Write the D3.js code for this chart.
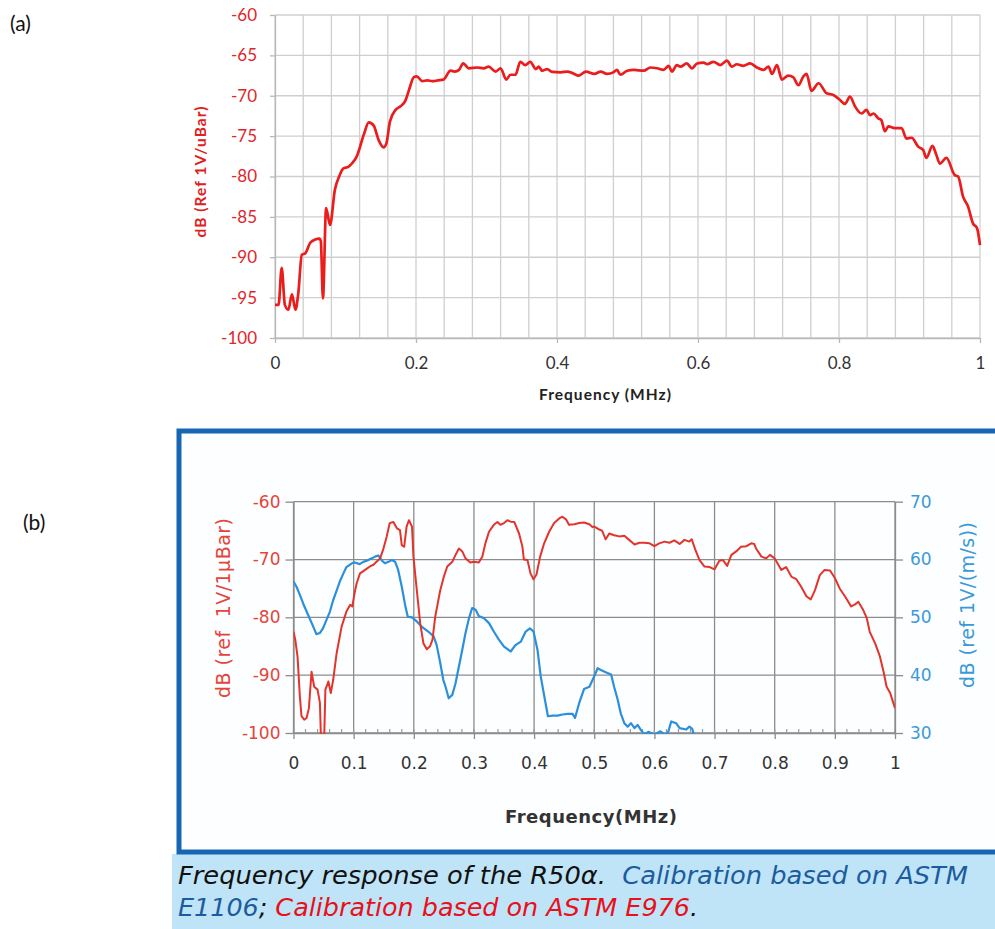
<!DOCTYPE html>
<html>
<head>
<meta charset="utf-8">
<script src="https://cdn.jsdelivr.net/npm/d3@7"></script>
<style>
body { margin: 0; background: #fff; }
svg { display: block; }
</style>
</head>
<body>
<svg></svg>
<script>

//panel (a) data: frequency (MHz) and dB

let aFreq = [0, 0.005, 0.0095, 0.014, 0.019, 0.024, 0.029, 0.033, 0.038, 0.043, 0.05, 0.057, 0.063, 0.065, 0.068, 0.0725, 0.078, 0.085, 0.091, 0.097,
    0.104, 0.11, 0.116, 0.126, 0.133, 0.14, 0.147, 0.154, 0.158, 0.163, 0.171, 0.178, 0.185, 0.19, 0.197, 0.201, 0.209, 0.216, 0.223, 0.231,
    0.239, 0.249, 0.255, 0.261, 0.267, 0.275, 0.287, 0.296, 0.303, 0.313, 0.32, 0.328, 0.334, 0.341, 0.348, 0.355, 0.362, 0.37, 0.374, 0.379,
    0.386, 0.393, 0.405, 0.415, 0.422, 0.431, 0.441, 0.453, 0.462, 0.471, 0.48, 0.485, 0.49, 0.4995, 0.509, 0.523, 0.5325, 0.542, 0.551, 0.5585,
    0.563, 0.57, 0.575, 0.584, 0.5915, 0.5986, 0.608, 0.613, 0.622, 0.6316, 0.641, 0.648, 0.655, 0.664, 0.674, 0.6835, 0.693, 0.7, 0.705, 0.712,
    0.719, 0.728, 0.735, 0.7425, 0.7495, 0.754, 0.761, 0.771, 0.7825, 0.792, 0.801, 0.8085, 0.8156, 0.8226, 0.832, 0.839, 0.844, 0.849, 0.8557, 0.86,
    0.865, 0.87, 0.879, 0.8887, 0.8958, 0.903, 0.9123, 0.9193, 0.924, 0.9325, 0.938, 0.943, 0.9524, 0.964, 0.969, 0.976, 0.983, 0.99, 0.9958, 1]
let aDb = [-95.9, -95.9, -91.3, -95.9, -96.5, -94.6, -96.5, -94.5, -89.7, -89.5, -88.2, -87.8, -87.7, -88.0, -95.1, -83.9, -86.0, -81.6, -80.0, -79.0,
    -78.8, -78.3, -77.5, -74.8, -73.3, -73.7, -75.5, -76.4, -75.9, -73.2, -71.75, -71.3, -70.6, -69.3, -67.7, -67.6, -68.2, -68.1, -68.2, -68.1,
    -68.0, -66.9, -67.0, -66.8, -66.0, -66.6, -66.5, -66.6, -66.4, -67.0, -66.6, -68.0, -67.4, -67.4, -65.8, -66.2, -65.8, -66.7, -66.4, -66.9,
    -66.7, -67.05, -67.1, -67.0, -67.2, -67.5, -67.0, -67.3, -67.0, -67.3, -67.1, -66.8, -67.4, -66.9, -66.8, -66.9, -66.5, -66.6, -66.8, -66.3,
    -67.0, -66.2, -66.4, -66.0, -66.6, -66.0, -65.9, -66.1, -65.8, -66.2, -65.65, -66.4, -66.1, -66.3, -66.0, -66.5, -66.8, -66.4, -67.3, -66.2,
    -68.0, -67.5, -67.7, -68.7, -67.6, -67.3, -69.4, -68.45, -69.7, -69.9, -70.5, -71.0, -70.1, -71.3, -72.2, -71.75, -72.4, -72.2, -72.8, -73.0,
    -74.4, -73.8, -74.0, -74.0, -75.3, -75.2, -76.3, -76.7, -77.7, -76.2, -77.3, -78.4, -77.7, -79.8, -80.0, -82.5, -83.7, -85.8, -86.4, -88.5]

//panel (b) data: red (E976, left axis) and blue (E1106, right axis)

let bRedFreq = [0, 0.003, 0.0067, 0.0106, 0.0133, 0.0178, 0.0217, 0.0256, 0.03, 0.0344, 0.04, 0.0439, 0.046, 0.049, 0.051, 0.053, 0.058, 0.062, 0.066, 0.0717,
    0.08, 0.088, 0.094, 0.0978, 0.101, 0.105, 0.1106, 0.119, 0.127, 0.133, 0.138, 0.144, 0.149, 0.155, 0.16, 0.166, 0.172, 0.177, 0.18, 0.184,
    0.188, 0.192, 0.197, 0.1994, 0.205, 0.2106, 0.216, 0.2217, 0.227, 0.231, 0.2356, 0.244, 0.25, 0.2556, 0.264, 0.2694, 0.275, 0.2806, 0.286, 0.294,
    0.3, 0.308, 0.314, 0.319, 0.325, 0.333, 0.339, 0.344, 0.35, 0.3556, 0.361, 0.367, 0.375, 0.3806, 0.383, 0.389, 0.394, 0.399, 0.404, 0.41,
    0.4167, 0.425, 0.4333, 0.4417, 0.447, 0.453, 0.458, 0.467, 0.475, 0.483, 0.492, 0.497, 0.5, 0.508, 0.513, 0.519, 0.525, 0.533, 0.542, 0.55,
    0.558, 0.567, 0.575, 0.583, 0.592, 0.6, 0.608, 0.617, 0.625, 0.633, 0.642, 0.65, 0.658, 0.662, 0.668, 0.675, 0.683, 0.692, 0.7, 0.708,
    0.714, 0.721, 0.728, 0.736, 0.744, 0.753, 0.761, 0.766, 0.769, 0.778, 0.786, 0.792, 0.8, 0.806, 0.811, 0.819, 0.828, 0.836, 0.844, 0.853,
    0.86, 0.867, 0.875, 0.883, 0.892, 0.9, 0.908, 0.917, 0.927, 0.933, 0.939, 0.947, 0.953, 0.958, 0.967, 0.975, 0.981, 0.986, 0.992, 1]
let bRedDb = [-82.5, -83.9, -86.8, -93.7, -97.1, -97.7, -97.4, -95.7, -89.4, -92.0, -92.5, -94.8, -102, -103, -101, -92.5, -91.1, -93.1, -90.8, -86.2,
    -81.6, -79.0, -77.85, -78.1, -76.1, -74.1, -72.4, -71.8, -71.2, -70.9, -70.4, -69.8, -68.3, -66.0, -63.7, -63.5, -64.6, -64.9, -67.5, -67.8,
    -64.3, -63.2, -64.3, -69.5, -75.3, -81.0, -84.5, -85.5, -85.0, -83.9, -79.9, -75.3, -72.95, -71.2, -70.4, -69.2, -68.1, -68.6, -69.8, -70.5,
    -70.4, -70.5, -69.5, -67.2, -65.2, -64.0, -63.5, -64.0, -63.7, -63.2, -63.45, -63.5, -65.5, -67.8, -70.0, -70.1, -72.4, -73.4, -72.6, -69.5,
    -67.2, -65.2, -63.7, -62.9, -62.6, -63.05, -64.0, -63.9, -63.7, -63.6, -63.9, -64.4, -64.3, -64.8, -65.0, -66.5, -65.5, -65.8, -66.0, -65.9,
    -66.6, -67.4, -67.1, -67.1, -67.2, -67.7, -67.2, -66.9, -67.1, -66.7, -67.3, -66.6, -66.9, -66.5, -68.3, -70.1, -71.2, -71.3, -71.7, -70.2,
    -70.1, -71.1, -69.2, -68.6, -67.8, -67.7, -67.2, -67.3, -68.1, -69.5, -69.8, -69.2, -69.8, -70.9, -71.8, -71.3, -73.0, -73.4, -74.7, -76.4,
    -76.9, -75.3, -72.7, -71.8, -71.9, -73.2, -75.0, -76.4, -78.1, -77.8, -77.3, -78.7, -80.1, -82.5, -84.5, -86.8, -89.4, -92.0, -93.1, -95.7]

let bBlueFreq = [0, 0.005, 0.0106, 0.016, 0.0244, 0.0328, 0.038, 0.044, 0.049, 0.055, 0.0606, 0.066, 0.072, 0.077, 0.083, 0.088, 0.097, 0.102, 0.11, 0.116,
    0.1217, 0.13, 0.1356, 0.141, 0.147, 0.152, 0.158, 0.163, 0.169, 0.174, 0.18, 0.186, 0.19, 0.197, 0.205, 0.213, 0.224, 0.233, 0.238, 0.244,
    0.249, 0.2528, 0.258, 0.264, 0.2694, 0.275, 0.2806, 0.286, 0.2917, 0.297, 0.3028, 0.308, 0.3167, 0.325, 0.333, 0.3417, 0.35, 0.361, 0.369, 0.378,
    0.386, 0.393, 0.399, 0.4056, 0.411, 0.418, 0.423, 0.4306, 0.439, 0.447, 0.456, 0.464, 0.468, 0.475, 0.483, 0.492, 0.5, 0.5056, 0.511, 0.519,
    0.528, 0.533, 0.539, 0.544, 0.55, 0.5556, 0.561, 0.567, 0.572, 0.578, 0.583, 0.59, 0.6, 0.61, 0.618, 0.623, 0.628, 0.636, 0.642, 0.653,
    0.658, 0.663, 0.666]
let bBlueDb = [56.2, 55.3, 53.9, 52.4, 50.4, 48.4, 47.1, 47.3, 48.1, 49.6, 51.0, 53.0, 54.7, 56.2, 57.6, 58.7, 59.35, 59.5, 59.2, 59.6,
    59.8, 60.2, 60.5, 60.7, 59.8, 59.35, 59.6, 59.9, 59.6, 58.2, 55.3, 51.9, 50.1, 50.0, 49.3, 48.4, 47.55, 46.7, 45.2, 42.1,
    39.2, 38.0, 36.0, 36.6, 38.6, 41.5, 44.4, 47.3, 49.85, 51.6, 51.3, 50.25, 49.85, 49.0, 47.55, 46.1, 44.95, 44.1, 45.2, 45.8,
    47.55, 48.1, 47.55, 44.4, 39.8, 35.75, 32.9, 33.0, 33.0, 33.2, 33.3, 33.3, 32.6, 35.2, 37.6, 38.0, 39.8, 41.2, 40.9, 40.5,
    40.1, 38.0, 35.75, 33.4, 31.7, 31.1, 31.7, 30.85, 31.4, 30.45, 29.8, 30.2, 29.7, 30.3, 29.6, 30.2, 32.0, 31.7, 30.85, 30.6,
    31.1, 30.7, 29.5]

//tick labels

let aXTicks = [0, 0.2, 0.4, 0.6, 0.8, 1]
let aYTicks = [-100, -95, -90, -85, -80, -75, -70, -65, -60]
let bXTicks = [0, 0.1, 0.2, 0.3, 0.4, 0.5, 0.6, 0.7, 0.8, 0.9, 1]
let bLeftTicks = [-100, -90, -80, -70, -60]
let bRightTicks = [30, 40, 50, 60, 70]


//canvas

let width = 995
let height = 929
let svg = d3.select('svg')
    .attr('width', width)
    .attr('height', height)


//============ panel (a) ============

let xA = d3.scaleLinear().domain([0, 1]).range([275, 980])
let yA = d3.scaleLinear().domain([-100, -60]).range([338, 15])

let gA = svg.append('g')

//grid
gA.selectAll('.vgridA')
    .data(d3.range(0, 25.5, 1).map(i => i * 0.04))
    .enter()
    .append('line')
    .attr('x1', d => xA(d)).attr('x2', d => xA(d))
    .attr('y1', yA(-100)).attr('y2', yA(-60))
    .attr('stroke', '#cfcfcf')
    .attr('stroke-width', 1.3)

gA.selectAll('.hgridA')
    .data(aYTicks)
    .enter()
    .append('line')
    .attr('x1', xA(0)).attr('x2', xA(1))
    .attr('y1', d => yA(d)).attr('y2', d => yA(d))
    .attr('stroke', '#cfcfcf')
    .attr('stroke-width', 1.3)

//axes
let styleAxisA = (g, color) => {
    g.attr('font-family', 'Lato, "Open Sans", sans-serif').attr('font-size', 17)
    g.selectAll('line, path').attr('stroke', '#b8b8b8').attr('stroke-width', 1.3)
    g.selectAll('text').attr('fill', color)
}

gA.append('g')
    .attr('transform', 'translate(0,' + yA(-100) + ')')
    .call(d3.axisBottom(xA).tickValues(aXTicks).tickSize(5).tickSizeOuter(0).tickPadding(14).tickFormat(d => String(d)))
    .call(g => styleAxisA(g, '#333'))

gA.append('g')
    .attr('transform', 'translate(' + xA(0) + ',0)')
    .call(d3.axisLeft(yA).tickValues(aYTicks).tickSize(5).tickSizeOuter(0).tickPadding(13).tickFormat(d => String(d)))
    .call(g => styleAxisA(g, '#e0252b'))

//line
let lineA = d3.line()
    .x(d => xA(d[0]))
    .y(d => yA(d[1]))
    .curve(d3.curveMonotoneX)

gA.append('path')
    .datum(d3.zip(aFreq, aDb))
    .attr('d', lineA)
    .attr('fill', 'none')
    .attr('stroke', '#ea1c1c')
    .attr('stroke-width', 2.7)
    .attr('stroke-linejoin', 'round')

//titles
gA.append('text')
    .attr('transform', 'translate(200,172) rotate(-90)')
    .attr('text-anchor', 'middle')
    .attr('dominant-baseline', 'central')
    .attr('font-family', 'Lato, sans-serif')
    .attr('font-weight', 'bold')
    .attr('font-size', 15.5)
    .attr('fill', '#e02020')
    .attr('textLength', 131)
    .text('dB (Ref 1V/uBar)')

gA.append('text')
    .attr('x', 605).attr('y', 400)
    .attr('text-anchor', 'middle')
    .attr('font-family', 'Lato, sans-serif')
    .attr('font-weight', 'bold')
    .attr('font-size', 15.5)
    .attr('fill', '#222')
    .attr('textLength', 132)
    .text('Frequency (MHz)')

svg.append('text')
    .attr('x', 10).attr('y', 31)
    .attr('font-family', 'Lato, sans-serif')
    .attr('font-size', 21)
    .attr('fill', '#111')
    .text('(a)')


//============ panel (b) ============

//blue frame and caption background
svg.append('rect')
    .attr('x', 172).attr('y', 854)
    .attr('width', 823).attr('height', 75)
    .attr('fill', '#bfe4f7')

svg.append('rect')
    .attr('x', 179).attr('y', 431)
    .attr('width', 840).attr('height', 421)
    .attr('fill', '#fdfeff')
    .attr('stroke', '#1766b3')
    .attr('stroke-width', 5)

svg.append('text')
    .attr('x', 23).attr('y', 530)
    .attr('font-family', 'Lato, sans-serif')
    .attr('font-size', 21)
    .attr('fill', '#111')
    .text('(b)')

let xB = d3.scaleLinear().domain([0, 1]).range([293.5, 895])
let yBL = d3.scaleLinear().domain([-100, -60]).range([733, 501.7])
let yBR = d3.scaleLinear().domain([30, 70]).range([733, 501.7])

let gB = svg.append('g')

//grid
gB.selectAll('.vgridB')
    .data(bXTicks)
    .enter()
    .append('line')
    .attr('x1', d => xB(d)).attr('x2', d => xB(d))
    .attr('y1', yBL(-100)).attr('y2', yBL(-60))
    .attr('stroke', '#8c8c8c')
    .attr('stroke-width', 1.3)

gB.selectAll('.hgridB')
    .data(bLeftTicks)
    .enter()
    .append('line')
    .attr('x1', xB(0)).attr('x2', xB(1))
    .attr('y1', d => yBL(d)).attr('y2', d => yBL(d))
    .attr('stroke', '#8c8c8c')
    .attr('stroke-width', 1.3)

//minor ticks on the bottom axis, pointing up
gB.selectAll('.minorB')
    .data(d3.range(0, 50.5, 1).map(i => i * 0.02))
    .enter()
    .append('line')
    .attr('x1', d => xB(d)).attr('x2', d => xB(d))
    .attr('y1', yBL(-100)).attr('y2', yBL(-100) - 4)
    .attr('stroke', '#9a9a9a')
    .attr('stroke-width', 1.2)

//axes
let styleAxisB = (g, color) => {
    g.attr('font-family', '"DejaVu Sans", Verdana, sans-serif').attr('font-size', 17)
    g.selectAll('line, path').attr('stroke', '#8c8c8c').attr('stroke-width', 1.3)
    g.selectAll('text').attr('fill', color)
}

gB.append('g')
    .attr('transform', 'translate(0,' + yBL(-100) + ')')
    .call(d3.axisBottom(xB).tickValues(bXTicks).tickSize(6).tickSizeOuter(0).tickPadding(18).tickFormat(d => String(d)))
    .call(g => styleAxisB(g, '#333'))

gB.append('g')
    .attr('transform', 'translate(' + xB(0) + ',0)')
    .call(d3.axisLeft(yBL).tickValues(bLeftTicks).tickSize(8).tickSizeOuter(0).tickPadding(5).tickFormat(d => String(d)))
    .call(g => styleAxisB(g, '#e5443a'))

gB.append('g')
    .attr('transform', 'translate(' + xB(1) + ',0)')
    .call(d3.axisRight(yBR).tickValues(bRightTicks).tickSize(8).tickSizeOuter(0).tickPadding(7).tickFormat(d => String(d)))
    .call(g => styleAxisB(g, '#3a9ad9'))

//clip for the lines
svg.append('defs')
    .append('clipPath')
    .attr('id', 'clipB')
    .append('rect')
    .attr('x', xB(0)).attr('y', yBL(-60) - 1)
    .attr('width', xB(1) - xB(0)).attr('height', yBL(-100) - yBL(-60) + 2)

let lineBlue = d3.line()
    .x(d => xB(d[0]))
    .y(d => yBR(d[1]))

let lineRed = d3.line()
    .x(d => xB(d[0]))
    .y(d => yBL(d[1]))

gB.append('path')
    .datum(d3.zip(bBlueFreq, bBlueDb))
    .attr('d', lineBlue)
    .attr('clip-path', 'url(#clipB)')
    .attr('fill', 'none')
    .attr('stroke', '#2b8fdc')
    .attr('stroke-width', 2.2)
    .attr('stroke-linejoin', 'round')

gB.append('path')
    .datum(d3.zip(bRedFreq, bRedDb))
    .attr('d', lineRed)
    .attr('clip-path', 'url(#clipB)')
    .attr('fill', 'none')
    .attr('stroke', '#e3342c')
    .attr('stroke-width', 2)
    .attr('stroke-linejoin', 'round')

//axis titles
gB.append('text')
    .attr('transform', 'translate(223,608) rotate(-90)')
    .attr('text-anchor', 'middle')
    .attr('dominant-baseline', 'central')
    .attr('font-family', '"DejaVu Sans", Verdana, sans-serif')
    .attr('font-size', 19)
    .attr('fill', '#e5443a')
    .attr('textLength', 180)
    .style('white-space', 'pre')
    .text('dB (ref  1V/1μBar)')

gB.append('text')
    .attr('transform', 'translate(967,605) rotate(-90)')
    .attr('text-anchor', 'middle')
    .attr('dominant-baseline', 'central')
    .attr('font-family', '"DejaVu Sans", Verdana, sans-serif')
    .attr('font-size', 19)
    .attr('fill', '#3a9ad9')
    .attr('textLength', 166)
    .text('dB (ref 1V/(m/s))')

gB.append('text')
    .attr('x', 591).attr('y', 823)
    .attr('text-anchor', 'middle')
    .attr('font-family', '"DejaVu Sans", Verdana, sans-serif')
    .attr('font-weight', 'bold')
    .attr('font-size', 18)
    .attr('fill', '#333')
    .attr('textLength', 172)
    .text('Frequency(MHz)')

//caption
let capFont = '"DejaVu Sans Condensed", "DejaVu Sans", sans-serif'

let cap1 = svg.append('text')
    .attr('x', 178).attr('y', 884)
    .attr('font-family', capFont)
    .attr('font-style', 'italic')
    .attr('font-size', 24)
    .attr('textLength', 790)
    .attr('lengthAdjust', 'spacingAndGlyphs')
    .style('white-space', 'pre')
cap1.append('tspan').attr('fill', '#111').text('Frequency response of the R50α.  ')
cap1.append('tspan').attr('fill', '#1b5c9e').text('Calibration based on ASTM')

let cap2 = svg.append('text')
    .attr('x', 178).attr('y', 916)
    .attr('font-family', capFont)
    .attr('font-style', 'italic')
    .attr('font-size', 24)
    .attr('textLength', 520)
    .attr('lengthAdjust', 'spacingAndGlyphs')
cap2.append('tspan').attr('fill', '#1b5c9e').text('E1106')
cap2.append('tspan').attr('fill', '#111').text('; ')
cap2.append('tspan').attr('fill', '#e8101a').text('Calibration based on ASTM E976')
cap2.append('tspan').attr('fill', '#111').text('.')

</script>
</body>
</html>
